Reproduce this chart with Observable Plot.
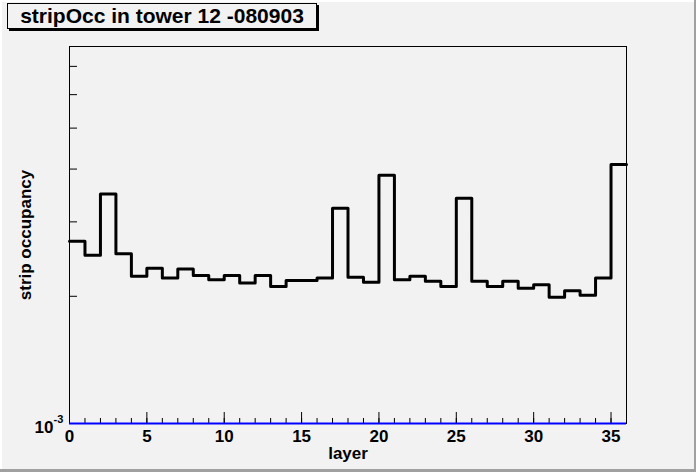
<!DOCTYPE html>
<html><head><meta charset="utf-8">
<script src="https://cdn.jsdelivr.net/npm/d3@7"></script>
<script src="https://cdn.jsdelivr.net/npm/@observablehq/plot@0.6"></script>
<style>
body{margin:0;background:#f2f2f2;}
#wrap{position:relative;width:696px;height:472px;background:#f2f2f2;overflow:hidden;font-family:"Liberation Sans",Arial,sans-serif;}
#wrap svg{position:absolute;left:0;top:0;}
#title{position:absolute;left:7px;top:3px;width:308px;height:24px;border:1px solid #000;box-shadow:2px 2px 0 #000;background:#f2f2f2;font-weight:bold;font-size:21px;line-height:24px;text-align:center;color:#000;z-index:2;}
.edge{position:absolute;z-index:3;}
</style>
</head><body>
<div id="wrap">
  <div id="title"></div>
  <div class="edge" style="left:0;top:0;width:696px;height:2px;background:#ffffff"></div>
  <div class="edge" style="left:0;top:0;width:2px;height:472px;background:#ffffff"></div>
  <div class="edge" style="left:694px;top:0;width:2px;height:472px;background:#a0a0a0"></div>
  <div class="edge" style="left:0;top:469px;width:696px;height:3px;background:#a0a0a0"></div>
</div>
<script>
const titleText = "stripOcc in tower 12 -080903";
const xLabel = "layer";
const yLabel = "strip occupancy";
const layers = [0,1,2,3,4,5,6,7,8,9,10,11,12,13,14,15,16,17,18,19,20,21,22,23,24,25,26,27,28,29,30,31,32,33,34,35];
const occupancy = [2.70e-3, 2.50e-3, 3.49e-3, 2.52e-3, 2.23e-3, 2.33e-3, 2.21e-3, 2.32e-3, 2.24e-3, 2.19e-3,
                   2.24e-3, 2.15e-3, 2.24e-3, 2.11e-3, 2.18e-3, 2.18e-3, 2.21e-3, 3.23e-3, 2.22e-3, 2.16e-3,
                   3.87e-3, 2.19e-3, 2.23e-3, 2.17e-3, 2.11e-3, 3.41e-3, 2.17e-3, 2.11e-3, 2.17e-3, 2.09e-3,
                   2.13e-3, 1.99e-3, 2.06e-3, 2.01e-3, 2.21e-3, 4.10e-3];
const binWidth = 1;
const xDomain = [0, 36];
const yDomain = [1e-3, 7.8e-3];
const xMajorTicks = [0,5,10,15,20,25,30,35];
const xMinorTicks = [0,1,2,3,4,5,6,7,8,9,10,11,12,13,14,15,16,17,18,19,20,21,22,23,24,25,26,27,28,29,30,31,32,33,34,35];
const yMinorTicks = [2e-3,3e-3,4e-3,5e-3,6e-3,7e-3];
const yTickLabels = [{value: 1e-3, base: "10", exp: "-3"}];

document.getElementById("title").textContent = titleText;

const steps = layers.map((l, i) => ({x: l, y: occupancy[i]}));
steps.push({x: layers[layers.length - 1] + binWidth, y: occupancy[occupancy.length - 1]});

const font = {fontFamily: "Liberation Sans, Arial, sans-serif", fontWeight: "bold"};

const chart = Plot.plot({
  width: 696, height: 472,
  marginLeft: 69, marginRight: 70, marginTop: 46, marginBottom: 49,
  style: {background: "transparent", fontFamily: "Liberation Sans, Arial, sans-serif", color: "black"},
  x: {domain: xDomain},
  y: {type: "log", domain: yDomain},
  marks: [
    Plot.frame({stroke: "black", strokeWidth: 1}),
    Plot.axisX(xMinorTicks, {tickSize: 5, dy: -5, tickFormat: () => "", label: null}),
    Plot.axisX(xMajorTicks, {tickSize: 11, dy: -11, tickFormat: () => "", label: null}),
    Plot.axisX(xMajorTicks, {tickSize: 0, tickPadding: 6, label: null, fontSize: 17, ...font}),
    Plot.axisY(yMinorTicks, {tickSize: 8, dx: 8, tickFormat: () => "", label: null}),
    Plot.text(yTickLabels, {y: "value", text: "base", frameAnchor: "left", textAnchor: "end", dx: -16, dy: 4, fontSize: 17, ...font}),
    Plot.text(yTickLabels, {y: "value", text: "exp", frameAnchor: "left", textAnchor: "start", dx: -16, dy: -4, fontSize: 11, ...font}),
    Plot.line(steps, {x: "x", y: "y", curve: "step-after", stroke: "black", strokeWidth: 3}),
    Plot.ruleY([yDomain[0]], {stroke: "#0000ff", strokeWidth: 2}),
    Plot.text([xLabel], {frameAnchor: "bottom", textAnchor: "middle", text: d => d, dy: 35, fontSize: 17, ...font}),
    Plot.text([yLabel], {frameAnchor: "left", textAnchor: "middle", text: d => d, rotate: -90, dx: -44, fontSize: 17, ...font})
  ]
});
document.getElementById("wrap").appendChild(chart);
</script>
</body></html>
